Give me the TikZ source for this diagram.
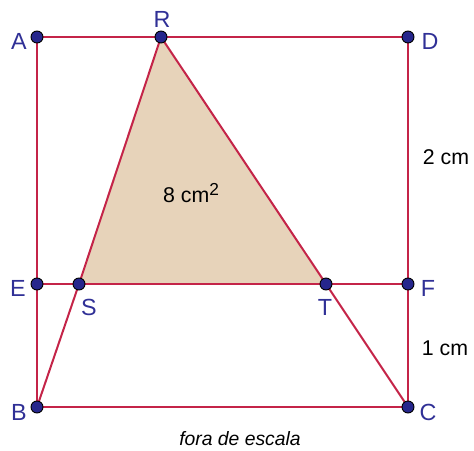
\documentclass[tikz,border=0pt]{standalone}
\usepackage{fontspec}
\setmainfont{Liberation Sans}
\definecolor{seg}{RGB}{196,36,72}
\definecolor{tan}{RGB}{231,211,186}
\definecolor{pt}{RGB}{38,38,140}
\definecolor{lab}{RGB}{48,48,150}
\begin{document}
\begin{tikzpicture}[x=0.75pt,y=-0.75pt,
  segline/.style={draw=seg,line width=1.5pt},
  dot/.style={circle,fill=pt,draw=black,line width=0.7pt,inner sep=0pt,minimum size=9pt},
  ptlabel/.style={text=lab,font=\fontsize{17.5}{20}\selectfont},
  meas/.style={text=black,font=\fontsize{16}{19}\selectfont}]
\useasboundingbox (0,0) rectangle (474,450);
\coordinate (A) at (37,37);
\coordinate (R) at (161,37);
\coordinate (D) at (408,37);
\coordinate (E) at (37,284);
\coordinate (S) at (79,284);
\coordinate (T) at (326,284);
\coordinate (F) at (408,284);
\coordinate (B) at (37,407);
\coordinate (C) at (408,407);
\fill[tan] (R) -- (S) -- (T) -- cycle;
\draw[segline] (A) -- (D) -- (C) -- (B) -- cycle;
\draw[segline] (E) -- (F);
\draw[segline] (R) -- (S);
\draw[segline] (R) -- (T);
\draw[segline] (B) -- (S);
\draw[segline] (T) -- (C);
\foreach \p in {A,R,D,E,S,T,F,B,C} \node[dot] (d\p) at (\p) {};
\node[ptlabel] (lA) at (19,41) {A};
\node[ptlabel] (lR) at (162,19) {R};
\node[ptlabel] (lD) at (430,41) {D};
\node[ptlabel] (lE) at (18,288) {E};
\node[ptlabel] (lS) at (89,307) {S};
\node[ptlabel] (lT) at (325,307) {T};
\node[ptlabel] (lF) at (428,288) {F};
\node[ptlabel] (lB) at (19,412) {B};
\node[ptlabel] (lC) at (428,412) {C};
\node[meas] (m2) at (446,157) {2 cm};
\node[meas] (m1) at (445,348) {1 cm};
\node[meas] (area) at (191,193) {8 cm{\fontsize{13}{15}\selectfont\raisebox{0.45em}{2}}};
\node[font=\fontsize{14.5}{17}\selectfont\itshape] (note) at (240,439) {fora de escala};
\end{tikzpicture}
\end{document}
